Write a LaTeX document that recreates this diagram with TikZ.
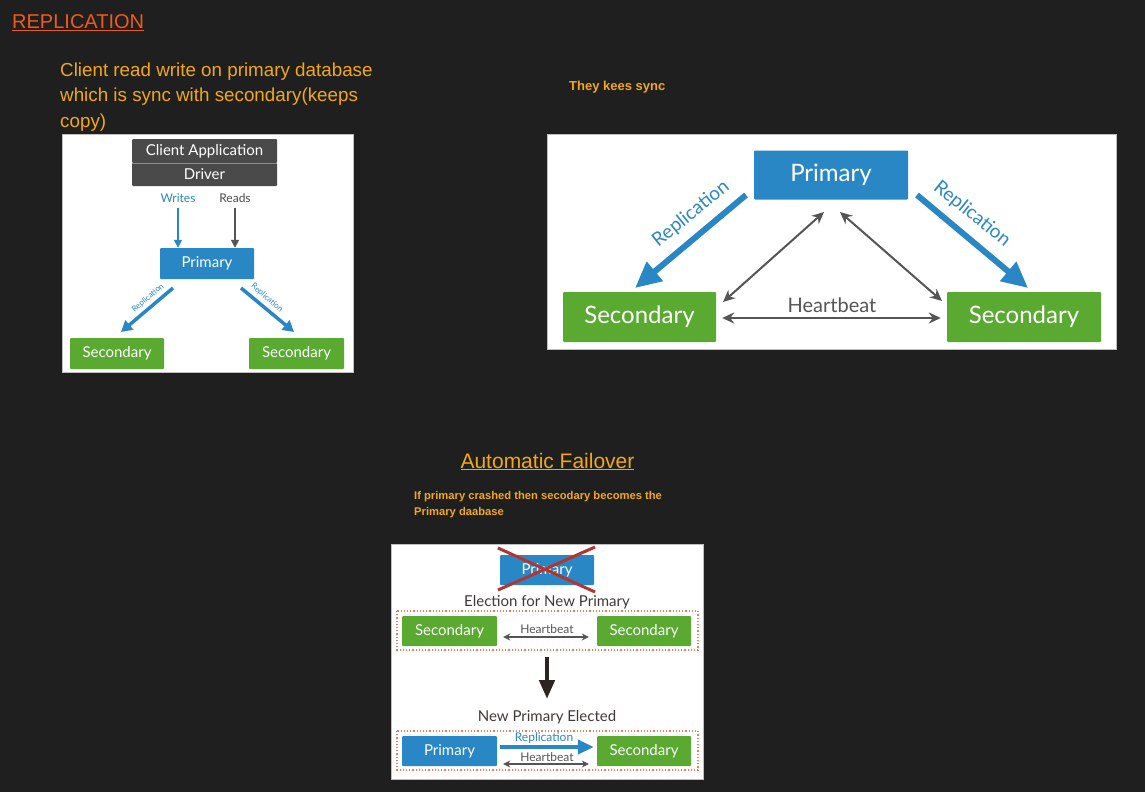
\documentclass[tikz,border=0pt]{standalone}
\usepackage{fontspec}
\setmainfont{Liberation Sans}
\newfontfamily\dfont{Lato}
\usetikzlibrary{arrows.meta}
\definecolor{bg}{HTML}{1F1F1F}
\definecolor{ttlorange}{HTML}{F05A1A}
\definecolor{amber}{HTML}{F2A818}
\definecolor{pblue}{HTML}{2A87C6}
\definecolor{sgreen}{HTML}{5AAA32}
\definecolor{dgray}{HTML}{4A4A4A}
\definecolor{agray}{HTML}{555555}
\definecolor{txtgray}{HTML}{3F3A38}
\definecolor{xred}{HTML}{B5342F}
\definecolor{dotred}{HTML}{EC7B5C}
\definecolor{darrow}{HTML}{2B2420}
\begin{document}
\begin{tikzpicture}[x=1pt,y=-1pt,
  panel/.style={fill=white, draw=black!25, line width=0.6pt},
  boxbase/.style={inner sep=0pt, rounded corners=1pt, text=white},
  pbox/.style={boxbase, fill=pblue},
  sbox/.style={boxbase, fill=sgreen},
  cbox/.style={boxbase, fill=dgray},
  small/.style={font=\dfont\fontsize{15}{18}\selectfont},
  big/.style={font=\dfont\fontsize{24}{28}\selectfont},
  repsmall/.style={pblue, line width=3.5pt, -{Triangle[length=11pt,width=12pt]}},
  repbig/.style={pblue, line width=6pt, -{Triangle[length=26pt,width=24pt]}},
  hbbig/.style={agray, line width=2pt, {Stealth[length=12pt,width=11pt]}-{Stealth[length=12pt,width=11pt]}},
  hbsmall/.style={agray, line width=1.5pt, {Stealth[length=7pt,width=7pt]}-{Stealth[length=7pt,width=7pt]}},
  note/.style={text=amber, anchor=base west, align=left}
]
\useasboundingbox (0,0) rectangle (1145,792);
\fill[bg] (0,0) rectangle (1145,792);

% ---------- header texts ----------
\node[text=ttlorange, anchor=base west, inner sep=0pt, font=\fontsize{20}{24}\selectfont] (title) at (12,29) {\underline{REPLICATION}};
\node[note, inner sep=0pt, font=\fontsize{18.8}{25.5}\selectfont] (t1) at (60,127)
  {Client read write on primary database\\which is sync with secondary(keeps\\copy)};
\node[note, inner sep=0pt, font=\bfseries\fontsize{13}{15}\selectfont] (t2) at (569,90) {They kees sync};
\node[text=amber, anchor=base, inner sep=0pt, font=\fontsize{21}{25}\selectfont] (t3) at (547.5,468) {\underline{Automatic Failover}};
\node[note, inner sep=0pt, font=\bfseries\fontsize{11.2}{15.5}\selectfont] (t4) at (414,515)
  {If primary crashed then secodary becomes the\\Primary daabase};

% ---------- panel 1 ----------
\draw[panel] (62,134) rectangle (353,372);
\node[cbox, minimum width=145pt, minimum height=24pt, font=\dfont\fontsize{15}{18}\selectfont] (client) at (204.5,151) {Client Application};
\node[cbox, minimum width=145pt, minimum height=23pt, font=\dfont\fontsize{15}{18}\selectfont] (driver) at (204.5,174.5) {Driver};
\draw[black!45, line width=0.8pt] (client.south west) -- (client.south east);
\node[text=pblue, font=\dfont\fontsize{12}{14}\selectfont, inner sep=0pt] (writes) at (178,198) {Writes};
\node[text=dgray, font=\dfont\fontsize{12}{14}\selectfont, inner sep=0pt] (reads) at (235,198) {Reads};
\node[pbox, small, minimum width=94pt, minimum height=31pt] (p1) at (207,263.5) {Primary};
\node[sbox, small, minimum width=94pt, minimum height=31pt] (s1a) at (117,353.5) {Secondary};
\node[sbox, small, minimum width=95pt, minimum height=31pt] (s1b) at (296.5,353.5) {Secondary};
\draw[pblue, line width=1.5pt, -{Triangle[length=8pt,width=8pt]}] (writes.south) ++(0,5) -- (writes.south |- p1.north);
\draw[agray, line width=1.5pt, -{Triangle[length=8pt,width=8pt]}] (reads.south) ++(0,5) -- (reads.south |- p1.north);
\coordinate (r1a) at (173,288); \coordinate (r1at) at (121,332);
\coordinate (r1b) at (241,288); \coordinate (r1bt) at (294,332);
\draw[repsmall] (r1a) -- (r1at);
\draw[repsmall] (r1b) -- (r1bt);
\node[text=pblue, rotate=40, font=\dfont\fontsize{8}{10}\selectfont, inner sep=0pt] (rl1a) at (148,298) {Replication};
\node[text=pblue, rotate=-41, font=\dfont\fontsize{8}{10}\selectfont, inner sep=0pt] (rl1b) at (267,298) {Replication};

% ---------- panel 2 ----------
\draw[panel] (547,134) rectangle (1116,349);
\node[pbox, big, minimum width=154pt, minimum height=49pt] (p2) at (831,175) {Primary};
\node[sbox, big, minimum width=153pt, minimum height=50pt] (s2a) at (639.5,317) {Secondary};
\node[sbox, big, minimum width=154pt, minimum height=50pt] (s2b) at (1024,317) {Secondary};
\coordinate (r2a) at (746,195); \coordinate (r2at) at (635,288);
\coordinate (r2b) at (917,195); \coordinate (r2bt) at (1028,288);
\draw[repbig] (r2a) -- (r2at);
\draw[repbig] (r2b) -- (r2bt);
\node[text=pblue, rotate=39, font=\dfont\fontsize{19}{22}\selectfont, inner sep=0pt] (rl2a) at (691,214) {Replication};
\node[text=pblue, rotate=-39, font=\dfont\fontsize{19}{22}\selectfont, inner sep=0pt] (rl2b) at (972,214) {Replication};
\coordinate (h2a) at (824,212); \coordinate (h2b) at (723,302);
\coordinate (h2c) at (840,212); \coordinate (h2d) at (942,301);
\draw[hbbig] (h2a) -- (h2b);
\draw[hbbig] (h2c) -- (h2d);
\draw[hbbig] (s2a.east) ++(6,1) -- ([xshift=-6pt,yshift=-1pt]s2b.west);
\node[text=agray, font=\dfont\fontsize{20}{24}\selectfont, inner sep=0pt] (hb2) at (832,305) {Heartbeat};

% ---------- panel 3 ----------
\draw[panel] (391,544) rectangle (703,779);
\node[pbox, small, minimum width=94pt, minimum height=30pt] (p3old) at (547,570) {Primary};
\draw[xred, line width=3pt] (498,548) -- (595,592);
\draw[xred, line width=3pt] (498,590) -- (595,547);
\node[text=txtgray, font=\dfont\fontsize{15}{18}\selectfont, inner sep=0pt] (el) at (547,602) {Election for New Primary};
\draw[dotred, dotted, line width=1.2pt] (397,611) rectangle (698,650);
\node[sbox, small, minimum width=95pt, minimum height=30pt] (s3a) at (449.5,631) {Secondary};
\node[sbox, small, minimum width=94pt, minimum height=30pt] (s3b) at (644,631) {Secondary};
\node[text=agray, font=\dfont\fontsize{12}{14}\selectfont, inner sep=0pt, anchor=base] (hb3a) at (547,633) {Heartbeat};
\draw[hbsmall] ([xshift=6pt,yshift=-6pt]s3a.east) -- ([xshift=-8pt,yshift=-6pt]s3b.west);
\coordinate (dn1) at (547,657); \coordinate (dn2) at (547,699);
\draw[darrow, line width=4.5pt, -{Triangle[length=19pt,width=15pt]}] (dn1) -- (dn2);
\node[text=txtgray, font=\dfont\fontsize{15}{18}\selectfont, inner sep=0pt] (ne) at (547,717) {New Primary Elected};
\draw[dotred, dotted, line width=1.2pt] (397,731) rectangle (698,770);
\node[pbox, small, minimum width=95pt, minimum height=30pt] (p3) at (449.5,751) {Primary};
\node[sbox, small, minimum width=94pt, minimum height=30pt] (s3c) at (644,751) {Secondary};
\node[text=pblue, font=\dfont\fontsize{12}{14}\selectfont, inner sep=0pt] (rl3) at (544,738) {Replication};
\draw[pblue, line width=4pt, -{Triangle[length=16pt,width=14pt]}] ([xshift=3pt,yshift=4pt]p3.east) -- ([xshift=-3pt,yshift=4pt]s3c.west);
\node[text=agray, font=\dfont\fontsize{12}{14}\selectfont, inner sep=0pt] (hb3b) at (547,757) {Heartbeat};
\draw[hbsmall] ([xshift=6pt,yshift=-13pt]p3.east) -- ([xshift=-8pt,yshift=-13pt]s3c.west);
\end{tikzpicture}
\end{document}
